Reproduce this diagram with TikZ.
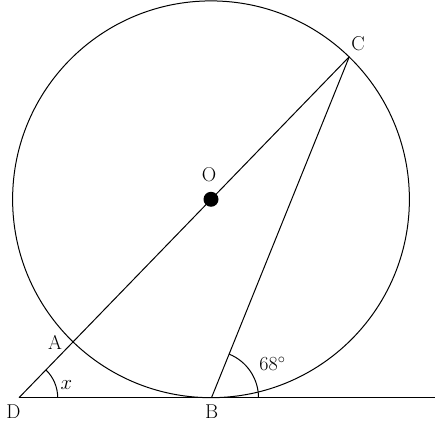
\documentclass[tikz,border=0pt]{standalone}
\usetikzlibrary{calc,intersections}
\begin{document}
\begin{tikzpicture}[x=1pt,y=-1pt,line width=1pt,
  lbl/.style={font=\fontsize{20}{24}\selectfont,inner sep=0pt}]
\useasboundingbox (0,0) rectangle (440,422);
\coordinate (O) at (211,199.3);
\coordinate (D) at (19,397.7);
\coordinate (B) at (211.5,397.7);
\coordinate (C) at (349.3,56.7);
\coordinate (E) at (435,397.7);
\coordinate (A) at (72.7,342.7);
\draw (O) circle [radius=198.4];
\draw (D) -- (E);
\draw (D) -- (C);
\draw (B) -- (C);
\fill (O) circle [radius=7.5];
\draw ($(D)+(38.7,0)$) arc [start angle=0, end angle=-45.9, radius=38.7];
\draw ($(B)+(47,0)$) arc [start angle=0, end angle=-68, radius=47];
\node[lbl] (lO) at (209,175) {O};
\node[lbl] (lC) at (358,44) {C};
\node[lbl] (lA) at (55,342) {A};
\node[lbl] (lD) at (13.5,411.5) {D};
\node[lbl] (lB) at (211.7,411.5) {B};
\node[lbl] (lx) at (66.5,385) {$x$};
\node[lbl] (l68) at (272.5,364) {68$^\circ$};
\end{tikzpicture}
\end{document}
